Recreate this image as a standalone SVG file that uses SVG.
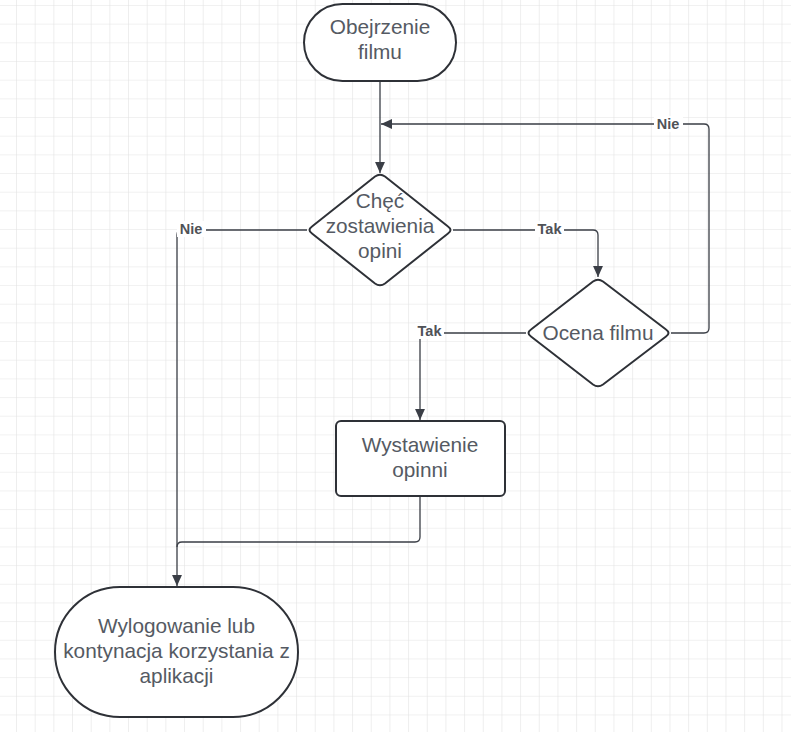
<svg xmlns="http://www.w3.org/2000/svg" width="791" height="732" viewBox="0 0 791 732">
<defs>
<pattern id="grid" x="-1.67" y="5" width="18.67" height="18.67" patternUnits="userSpaceOnUse">
<path d="M18.67 0 V18.67 M0 0 H18.67" fill="none" stroke="#e3e3e3" stroke-width="1.2"/>
</pattern>
<marker id="arr" viewBox="0 0 10 10" refX="10" refY="5" markerWidth="11" markerHeight="11" markerUnits="userSpaceOnUse" orient="auto">
<path d="M0 0.5 L10 5 L0 9.5 Z" fill="#3a3e46"/>
</marker>
<style>
.shape{fill:#ffffff;stroke:#2e3137;stroke-width:2}
.t{font-family:"Liberation Sans",Arial,sans-serif;font-size:20.8px;fill:#555a63;text-anchor:middle}
.c{fill:none;stroke:#3a3e46;stroke-width:1.3}
.lbl{font-family:"Liberation Sans",Arial,sans-serif;font-size:14.5px;font-weight:bold;fill:#505257;text-anchor:middle}
.lb{fill:#ffffff}
</style>
</defs>
<rect width="791" height="732" fill="#ffffff"/>
<rect width="791" height="732" fill="url(#grid)"/>
<g id="connectors">
<path class="c" d="M380 81 V173" marker-end="url(#arr)"/>
<path class="c" d="M453 230 H593 Q598 230 598 235 V277" marker-end="url(#arr)"/>
<path class="c" d="M671 333 H704 Q709 333 709 328 V129 Q709 124 704 124 H381" marker-end="url(#arr)"/>
<path class="c" d="M526 333 H425 Q420 333 420 338 V420" marker-end="url(#arr)"/>
<path class="c" d="M307 230 H182 Q177 230 177 235 V586" marker-end="url(#arr)"/>
<path class="c" d="M420 496 V537 Q420 542 415 542 H182 Q177 542 177 547"/>
<rect class="lb" x="535" y="221" width="29" height="16"/>
<text class="lbl" x="549.5" y="234">Tak</text>
<rect class="lb" x="177" y="221" width="29" height="16"/>
<text class="lbl" x="191" y="234">Nie</text>
<rect class="lb" x="415" y="323" width="29" height="16"/>
<text class="lbl" x="429.5" y="336">Tak</text>
<rect class="lb" x="654" y="116" width="29" height="16"/>
<text class="lbl" x="668" y="129">Nie</text>
</g>
<g id="start">
<rect class="shape" x="304" y="4" width="152" height="77" rx="38.5"/>
<text class="t" x="380" y="34">Obejrzenie</text>
<text class="t" x="380" y="59">filmu</text>
</g>
<g id="decision1">
<path class="shape" d="M375 176.5 Q380 173 385 176.5 L448 226.5 Q453 230 448 233.5 L385 283.5 Q380 287 375 283.5 L312 233.5 Q307 230 312 226.5 Z"/>
<text class="t" x="380" y="208">Chęć</text>
<text class="t" x="380" y="233">zostawienia</text>
<text class="t" x="380" y="258">opini</text>
</g>
<g id="decision2">
<path class="shape" d="M593 281.5 Q598 278 603 281.5 L666 329.5 Q671 333 666 336.5 L603 384.5 Q598 388 593 384.5 L531 336.5 Q526 333 531 329.5 Z"/>
<text class="t" x="598" y="340">Ocena filmu</text>
</g>
<g id="process">
<rect class="shape" x="336" y="421" width="169" height="75" rx="5"/>
<text class="t" x="420" y="452">Wystawienie</text>
<text class="t" x="420" y="477">opinni</text>
</g>
<g id="end">
<rect class="shape" x="55" y="587" width="243" height="130" rx="65"/>
<text class="t" x="176.5" y="633">Wylogowanie lub</text>
<text class="t" x="176.5" y="658">kontynacja korzystania z</text>
<text class="t" x="176.5" y="683">aplikacji</text>
</g>
</svg>
